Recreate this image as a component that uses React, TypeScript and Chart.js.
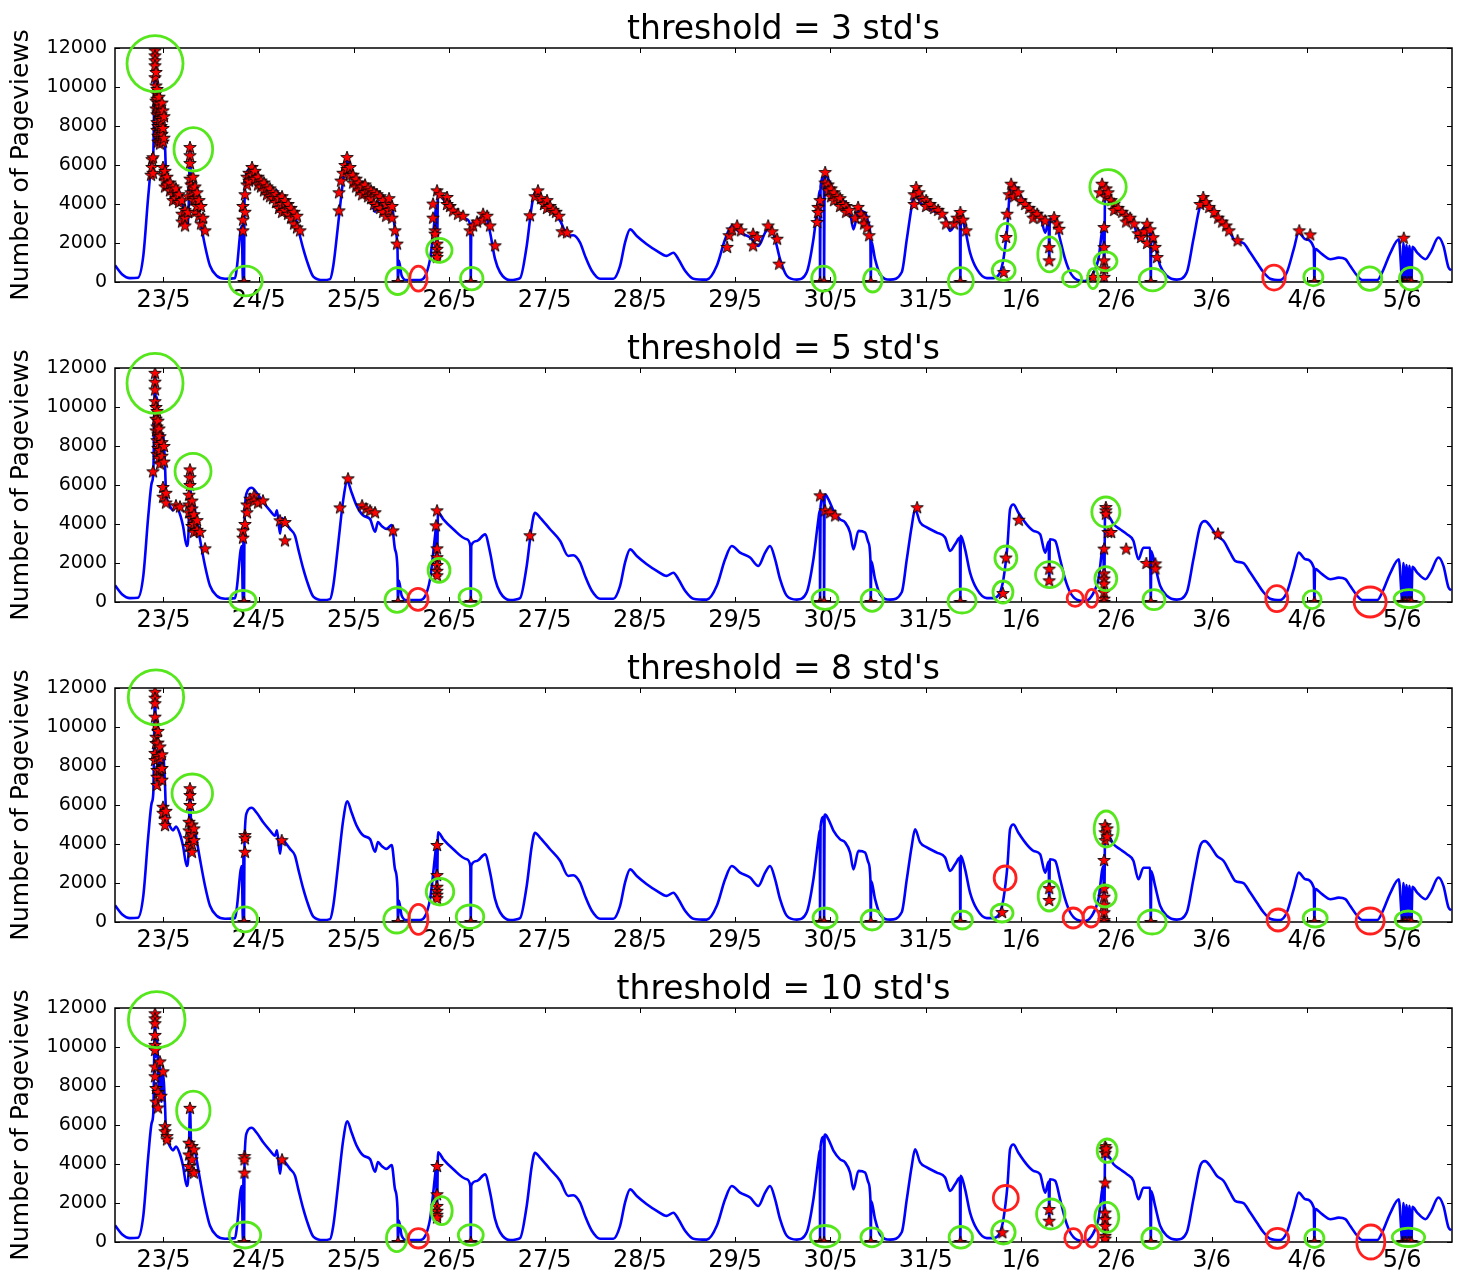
import React, { useEffect, useRef } from 'react';
import { Chart, registerables } from 'chart.js';

Chart.register(...registerables);

const FONT = "'DejaVu Sans', 'Bitstream Vera Sans', sans-serif";
const GREEN = '#55e61c';
const RED = '#ff1f1f';

// x axis: days since 23/5 00:00
const dayLabels = ['23/5', '24/5', '25/5', '26/5', '27/5', '28/5', '29/5', '30/5', '31/5', '1/6', '2/6', '3/6', '4/6', '5/6'];
const yTicks = [0, 2000, 4000, 6000, 8000, 10000, 12000];
const thresholds = [3, 5, 8, 10];
const xMin = -0.509;
const xMax = 13.523;

// blue line: [day, pageviews]
const pageviews: number[][] = [
  [-0.509, 850], [-0.436, 400], [-0.352, 200], [-0.268, 220], [-0.212, 1340], [-0.16, 4400], [-0.124, 6110], [-0.107, 6620],
  [-0.089, 11800], [-0.079, 9500], [-0.068, 10500], [-0.052, 8000], [-0.037, 9000], [-0.021, 7200], [-0.005, 8600], [0.016, 7000],
  [0.026, 5600], [0.042, 5200], [0.068, 4900], [0.1, 4700], [0.131, 4900], [0.173, 4500], [0.205, 3900], [0.244, 2870], [0.262, 3500],
  [0.278, 6880], [0.294, 4300], [0.315, 5000], [0.348, 4200], [0.383, 3220], [0.436, 1850], [0.488, 830], [0.558, 320], [0.646, 170],
  [0.751, 200], [0.768, 660], [0.821, 2870], [0.834, 0], [0.84, 3600], [0.845, 0], [0.85, 4000], [0.873, 5600], [0.926, 5860],
  [0.978, 5600], [1.048, 5100], [1.118, 4690], [1.17, 4430], [1.191, 4700], [1.223, 3500], [1.244, 4300], [1.275, 4100], [1.328, 3750],
  [1.38, 3400], [1.415, 2700], [1.467, 1700], [1.52, 870], [1.572, 280], [1.677, 100], [1.748, 150], [1.782, 830], [1.835, 3050],
  [1.887, 5260], [1.929, 6190], [1.975, 5600], [2.028, 4930], [2.097, 4430], [2.168, 4250], [2.22, 3600], [2.251, 4100], [2.29, 3900],
  [2.343, 3750], [2.395, 3950], [2.43, 2700], [2.456, 1700], [2.461, 0], [2.47, 1100], [2.5, 320], [2.553, 100], [2.692, 100],
  [2.797, 1160], [2.85, 3400], [2.862, 3900], [2.868, 1260], [2.874, 2450], [2.881, 4600], [2.937, 4240], [3.042, 3730], [3.183, 3220],
  [3.22, 2870], [3.225, 0], [3.23, 2900], [3.287, 3130], [3.375, 3470], [3.427, 2550], [3.48, 1170], [3.532, 500], [3.637, 100],
  [3.742, 200], [3.812, 1850], [3.865, 3900], [3.899, 4580], [3.952, 4330], [4.057, 3730], [4.162, 3140], [4.249, 2360], [4.301, 2400],
  [4.372, 2020], [4.424, 1340], [4.495, 580], [4.582, 170], [4.721, 170], [4.792, 830], [4.844, 2020], [4.897, 2700], [4.967, 2360],
  [5.072, 1940], [5.177, 1600], [5.282, 1340], [5.351, 1500], [5.404, 1170], [5.474, 580], [5.561, 170], [5.702, 120], [5.807, 830],
  [5.894, 2190], [5.964, 2870], [6.051, 2530], [6.156, 2280], [6.243, 1850], [6.314, 2530], [6.366, 2870], [6.419, 2190], [6.471, 1170],
  [6.541, 320], [6.646, 120], [6.751, 500], [6.821, 2190], [6.873, 4240], [6.888, 4700], [6.891, 0], [6.896, 4900], [6.93, 5400],
  [6.933, 0], [6.938, 5450], [6.944, 5510], [6.979, 5260], [7.031, 4690], [7.101, 4240], [7.154, 4080], [7.206, 3560], [7.241, 2700],
  [7.294, 3650], [7.363, 3560], [7.398, 3050], [7.419, 2190], [7.423, 0], [7.428, 2100], [7.468, 1170], [7.52, 400], [7.625, 120],
  [7.748, 500], [7.801, 2190], [7.853, 3900], [7.888, 4750], [7.941, 4080], [8.011, 3830], [8.116, 3560], [8.203, 3310], [8.255, 2620],
  [8.308, 2960], [8.358, 3300], [8.363, 0], [8.368, 3390], [8.413, 2700], [8.465, 1510], [8.536, 660], [8.641, 200], [8.71, 200],
  [8.78, 500], [8.815, 1170], [8.857, 2870], [8.885, 4750], [8.92, 5000], [8.972, 4580], [9.043, 4080], [9.13, 3650], [9.2, 3480],
  [9.253, 2530], [9.29, 3100], [9.296, 1090], [9.302, 3220], [9.358, 3140], [9.41, 2190], [9.463, 1170], [9.515, 500], [9.585, 120],
  [9.672, 50], [9.743, 320], [9.812, 1170], [9.864, 2870], [9.872, 0], [9.883, 4900], [9.893, 4400], [9.917, 4400], [9.969, 4000],
  [10.039, 3730], [10.11, 3480], [10.179, 3140], [10.232, 2190], [10.284, 2780], [10.354, 2780], [10.362, 0], [10.367, 2600],
  [10.407, 1850], [10.46, 830], [10.53, 320], [10.635, 120], [10.74, 500], [10.809, 2190], [10.88, 3900], [10.932, 4150], [10.985, 3900],
  [11.055, 3390], [11.124, 3140], [11.195, 2530], [11.247, 2110], [11.334, 1990], [11.405, 1510], [11.475, 1000], [11.545, 500],
  [11.615, 170], [11.72, 100], [11.79, 500], [11.862, 1680], [11.914, 2530], [11.985, 2190], [12.072, 1770], [12.079, 0], [12.085, 1700],
  [12.159, 1430], [12.247, 1170], [12.334, 1250], [12.404, 1170], [12.454, 830], [12.528, 320], [12.581, 100], [12.738, 100],
  [12.791, 500], [12.878, 1510], [12.965, 2190], [13.003, 0], [13.013, 2000], [13.034, 0], [13.045, 1900], [13.066, 0], [13.076, 1850],
  [13.097, 0], [13.108, 1800], [13.157, 1510], [13.244, 1170], [13.297, 1510], [13.381, 2280], [13.433, 1850], [13.486, 750], [13.514, 600],
];

// anomalies (red stars): [day, value, value, ...]
const anomalies3: number[][] = [
  [-0.131, 5500], [-0.121, 6300, 5900], [-0.11, 6400, 5600], [-0.089, 11880, 11620, 11370, 11110, 10500],
  [-0.079, 10770, 10080, 9700, 9300, 8900], [-0.068, 9900, 9400, 8600, 8200, 7800], [-0.058, 9200, 8700, 8000, 7500, 7200],
  [-0.047, 9500, 8800, 8100, 7400], [-0.037, 9000, 8400, 7700, 7100], [-0.026, 8600, 8000, 7300], [-0.016, 9200, 8300, 7600],
  [-0.005, 8800, 7900, 7200, 5900, 5500], [0.005, 8500, 7400], [0.016, 5700, 5200, 4900], [0.037, 5400, 5000], [0.068, 5100, 4700],
  [0.1, 4900, 4500, 4200], [0.131, 4800, 4300], [0.163, 4500, 4100], [0.194, 4200, 3500, 3100], [0.226, 3700, 3300, 2900],
  [0.257, 4400, 3600], [0.278, 6920, 6500, 6100, 5300], [0.289, 5000, 4600], [0.31, 5400, 4800, 4200], [0.331, 4900, 4300, 3600],
  [0.352, 4600, 3900], [0.373, 4200, 3400], [0.394, 3900, 3000], [0.415, 3300], [0.436, 2650],
  [0.834, 3900, 3200, 2650], [0.845, 0], [0.855, 4500, 3600], [0.876, 5000, 5400], [0.897, 5600, 5200], [0.929, 5900, 5500],
  [0.96, 5700, 5300], [0.992, 5400, 5000], [1.023, 5200, 4900], [1.055, 5100, 4700], [1.086, 4900, 4500], [1.118, 4800, 4400],
  [1.149, 4600, 4300], [1.181, 4500, 4100], [1.212, 4300, 3800], [1.244, 4400, 4000, 3600], [1.275, 4200, 3700], [1.307, 4000, 3500],
  [1.338, 3800, 3300], [1.37, 3600, 3000], [1.401, 3400, 2800], [1.433, 2650],
  [1.842, 3670, 4600], [1.863, 5200], [1.884, 5600], [1.905, 6000], [1.926, 6410, 5800], [1.958, 5900, 5500], [1.989, 5500, 5100],
  [2.021, 5300, 4900], [2.052, 5100, 4700], [2.084, 4900, 4500], [2.115, 5000, 4600], [2.147, 4800, 4400], [2.178, 4700, 4300],
  [2.21, 4600, 4000], [2.241, 4500, 3900], [2.273, 4400, 3800], [2.304, 4200, 3600], [2.336, 4000, 3400], [2.367, 4300, 3700],
  [2.399, 3900, 3300], [2.43, 2650], [2.451, 1970], [2.461, 0],
  [2.829, 4020, 3300], [2.85, 2650, 2480], [2.871, 4700, 1970, 1700, 1450, 1280], [2.903, 4500], [2.976, 4360, 4000], [3.007, 3900],
  [3.039, 3670], [3.091, 3500], [3.144, 3400], [3.217, 2650], [3.225, 0], [3.249, 2900], [3.291, 3100], [3.354, 3500, 3200],
  [3.396, 3400], [3.427, 2900], [3.48, 1880],
  [3.846, 3420], [3.899, 4400], [3.93, 4700], [3.962, 4300], [3.993, 4000], [4.025, 4200, 3800], [4.057, 3900], [4.088, 3700],
  [4.12, 3600], [4.151, 3400], [4.183, 2600], [4.235, 2550],
  [5.915, 1800], [5.936, 2400], [5.968, 2700], [6.02, 2900], [6.062, 2650], [6.188, 2480, 1880], [6.23, 2300], [6.346, 2900],
  [6.388, 2600], [6.44, 2220], [6.461, 940],
  [6.86, 3080], [6.87, 3850, 3590], [6.891, 4200, 0], [6.933, 0], [6.944, 5640, 5100], [6.975, 5000, 4700], [7.007, 4800, 4400],
  [7.038, 4600, 4200], [7.07, 4400], [7.101, 4300, 3900], [7.133, 4000], [7.164, 3900, 3600], [7.196, 3700], [7.259, 3300],
  [7.29, 3850], [7.322, 3500], [7.353, 3300, 3000], [7.385, 2800], [7.406, 2400], [7.423, 0],
  [7.878, 4500, 4000], [7.899, 4870], [7.93, 4600], [7.962, 4300], [8.004, 4200, 3900], [8.046, 4000], [8.088, 3800], [8.13, 3700],
  [8.172, 3500], [8.214, 3000], [8.298, 3000], [8.329, 3300], [8.363, 3590, 0], [8.392, 3200], [8.424, 2650],
  [8.818, 510], [8.843, 2310], [8.854, 3500], [8.875, 4500], [8.896, 5040], [8.927, 4800, 4400], [8.969, 4600], [9.001, 4190],
  [9.043, 4000], [9.085, 3800], [9.127, 3600, 3300], [9.169, 3500], [9.211, 3300], [9.253, 3160], [9.296, 1790, 1110], [9.347, 3330],
  [9.379, 3000], [9.4, 2730],
  [9.757, 260], [9.83, 4600], [9.851, 5040], [9.872, 2820, 1790, 1110, 700, 260], [9.893, 4800, 4400], [9.914, 4600], [9.946, 4200],
  [9.977, 4020, 3700], [10.019, 3800], [10.061, 3600], [10.103, 3400, 3100], [10.145, 3300], [10.187, 3000], [10.229, 2500],
  [10.26, 2310], [10.292, 2600], [10.323, 2990, 2000], [10.355, 2700], [10.362, 0], [10.386, 2300], [10.407, 1800], [10.428, 1280],
  [10.88, 4000], [10.912, 4360], [10.943, 4100], [10.975, 3850], [11.027, 3590], [11.069, 3300], [11.111, 3100], [11.153, 2900],
  [11.184, 2650], [11.273, 2140],
  [11.92, 2650], [12.035, 2440], [12.079, 0],
  [13.017, 2270], [13.003, 0], [13.034, 0], [13.066, 0], [13.097, 0],
];

const anomalies5: number[][] = [
  [-0.11, 6700], [-0.089, 11750, 11300, 10900, 10300], [-0.079, 10000, 9400, 8800], [-0.068, 9800, 9000, 8300, 7600],
  [-0.058, 9300, 8600, 7900], [-0.047, 8900, 8100, 7400], [-0.037, 8500, 7800, 7100], [-0.016, 8200, 7500], [-0.005, 5900, 5400],
  [0.005, 8000, 7200], [0.026, 5600, 5100], [0.131, 4960], [0.173, 4900], [0.268, 5500, 5000, 4600], [0.278, 6800, 6400, 6000],
  [0.299, 5200, 4800, 4300, 3900], [0.32, 4500, 4000, 3600], [0.352, 4200, 3700], [0.383, 3600], [0.436, 2750],
  [0.834, 3670, 3300], [0.845, 0], [0.855, 4000], [0.876, 4600, 5000], [0.908, 5300], [0.95, 5470, 5200], [0.992, 5100],
  [1.044, 5210], [1.223, 4190], [1.275, 4100, 3160],
  [1.853, 4850], [1.937, 6340], [2.084, 4960], [2.126, 4800], [2.168, 4700], [2.22, 4600], [2.409, 3670], [2.461, 0],
  [2.86, 3930], [2.871, 4700, 2750, 2300, 1900, 1600, 1370], [3.225, 0], [3.846, 3420],
  [6.891, 5470, 0], [6.933, 0], [6.944, 4700], [6.996, 4600], [7.049, 4440], [7.423, 0], [7.909, 4860], [8.363, 0],
  [8.81, 460], [8.841, 2280], [8.977, 4220], [9.296, 1710, 1110],
  [9.872, 2740, 1470, 1200, 950, 510, 170, 0], [9.89, 4870, 4700, 4530], [9.914, 3590], [9.946, 3590], [10.103, 2740],
  [10.316, 2000], [10.362, 0], [10.41, 1980, 1720], [11.067, 3510], [12.079, 0],
  [13.003, 0], [13.034, 0], [13.066, 0], [13.097, 0],
];

const anomalies8: number[][] = [
  [-0.089, 11810, 11500, 11220, 10530, 8670, 8310], [-0.079, 10100, 9500, 9180], [-0.068, 7800, 7450, 7030],
  [-0.058, 9800, 9200, 8500], [-0.037, 9000, 8400, 7800], [-0.016, 8600, 7900, 7300], [-0.005, 5910, 5600], [0.016, 5300, 4970],
  [0.026, 5700], [0.268, 5140, 4700, 4300, 3900], [0.278, 6860, 6510, 6000], [0.299, 5000, 4500, 4000, 3600], [0.32, 4800, 4200],
  [0.845, 0], [0.855, 4460, 4300, 3600], [1.241, 4200], [2.461, 0], [2.871, 3950, 2410, 1810, 1600, 1400, 1220], [3.225, 0],
  [6.891, 0], [6.933, 0], [7.423, 0], [8.363, 0], [8.801, 510], [9.296, 1740, 1130],
  [9.872, 3180, 1740, 1300, 900, 500, 100, 0], [9.883, 4970, 4600, 4200], [9.904, 4800, 4400], [10.362, 0], [12.079, 0],
  [13.003, 0], [13.034, 0], [13.066, 0], [13.097, 0],
];

const anomalies10: number[][] = [
  [-0.089, 11730, 11470, 11220, 10620, 10110, 9850, 9000, 8500], [-0.079, 7900, 7200], [-0.058, 7700, 6900], [-0.037, 9260],
  [-0.026, 7500], [-0.005, 8750], [0.016, 5940, 5680], [0.037, 5430, 5260], [0.268, 5090, 4490, 3900], [0.278, 6880],
  [0.299, 4920, 4240, 3640], [0.32, 4750, 3560], [0.845, 0], [0.85, 4410, 4240, 3560], [1.244, 4240], [2.461, 0],
  [2.871, 3900, 2450, 1850, 1600, 1400, 1260], [3.225, 0], [6.891, 0], [6.933, 0], [7.423, 0], [8.363, 0], [8.804, 500],
  [9.296, 1690, 1090], [9.883, 4920, 4750, 4580, 3050, 1510, 1170, 830, 320, 170], [9.893, 4800], [10.362, 0], [12.079, 0],
  [13.003, 0], [13.034, 0], [13.066, 0], [13.097, 0],
];

// annotation ellipses: [day, value, half-width (days), half-height (pageviews), colour]
type Ring = [number, number, number, number, string];
const rings3: Ring[] = [
  [-0.089, 11200, 0.294, 1436, 'g'], [0.313, 6805, 0.203, 1113, 'g'], [0.863, 51, 0.173, 759, 'g'], [2.458, 51, 0.124, 692, 'g'],
  [2.675, 174, 0.091, 641, 'r'], [2.895, 1626, 0.133, 615, 'g'], [3.235, 174, 0.118, 579, 'g'], [6.926, 174, 0.123, 641, 'g'],
  [7.444, 87, 0.097, 600, 'g'], [8.368, 51, 0.131, 682, 'g'], [8.843, 2308, 0.1, 703, 'g'], [8.818, 600, 0.12, 513, 'g'],
  [9.298, 1420, 0.122, 897, 'g'], [9.536, 174, 0.1, 426, 'g'], [9.755, 174, 0.057, 513, 'g'], [9.913, 4872, 0.191, 887, 'g'],
  [9.887, 1061, 0.12, 487, 'g'], [10.381, 123, 0.141, 574, 'g'], [11.655, 226, 0.118, 641, 'r'], [12.068, 256, 0.1, 451, 'g'],
  [12.66, 174, 0.126, 600, 'g'], [13.091, 174, 0.12, 579, 'g'],
];
const rings5: Ring[] = [
  [-0.089, 11215, 0.294, 1538, 'g'], [0.31, 6702, 0.189, 923, 'g'], [0.834, 87, 0.136, 513, 'g'], [2.451, 87, 0.126, 615, 'g'],
  [2.671, 138, 0.105, 564, 'r'], [2.892, 1626, 0.115, 615, 'g'], [3.217, 241, 0.115, 462, 'g'], [6.943, 138, 0.136, 513, 'g'],
  [7.437, 87, 0.115, 564, 'g'], [8.381, 51, 0.147, 615, 'g'], [8.841, 2256, 0.115, 615, 'g'], [8.81, 513, 0.105, 564, 'g'],
  [9.299, 1405, 0.147, 667, 'g'], [9.568, 190, 0.084, 410, 'r'], [9.742, 190, 0.063, 462, 'r'], [9.89, 4615, 0.147, 769, 'g'],
  [9.89, 1200, 0.115, 615, 'g'], [10.395, 123, 0.115, 513, 'g'], [11.684, 174, 0.115, 667, 'r'], [12.055, 123, 0.094, 462, 'g'],
  [12.664, 0, 0.168, 769, 'r'], [13.073, 174, 0.157, 462, 'g'],
];
const rings8: Ring[] = [
  [-0.079, 11523, 0.291, 1410, 'g'], [0.302, 6600, 0.213, 990, 'g'], [0.855, 138, 0.131, 641, 'g'], [2.448, 103, 0.136, 667, 'g'],
  [2.675, 138, 0.1, 769, 'r'], [2.902, 1554, 0.144, 682, 'g'], [3.217, 272, 0.144, 600, 'g'], [6.943, 205, 0.126, 513, 'g'],
  [7.437, 103, 0.115, 513, 'g'], [8.384, 103, 0.105, 462, 'g'], [8.801, 462, 0.115, 462, 'g'], [8.833, 2256, 0.115, 615, 'r'],
  [9.295, 1333, 0.115, 769, 'g'], [9.547, 205, 0.105, 513, 'r'], [9.736, 256, 0.084, 513, 'r'], [9.894, 4769, 0.126, 923, 'g'],
  [9.883, 1333, 0.115, 564, 'g'], [10.376, 0, 0.147, 615, 'g'], [11.698, 103, 0.115, 564, 'r'], [12.087, 205, 0.126, 462, 'g'],
  [12.664, 51, 0.147, 667, 'r'], [13.063, 103, 0.136, 462, 'g'],
];
const rings10: Ring[] = [
  [-0.071, 11400, 0.297, 1436, 'g'], [0.313, 6733, 0.175, 1000, 'g'], [0.855, 359, 0.165, 667, 'g'], [2.448, 190, 0.108, 682, 'g'],
  [2.675, 190, 0.105, 497, 'r'], [2.92, 1605, 0.11, 718, 'g'], [3.225, 359, 0.131, 528, 'g'], [6.943, 292, 0.154, 554, 'g'],
  [7.434, 241, 0.115, 487, 'g'], [8.368, 241, 0.123, 554, 'g'], [8.815, 497, 0.123, 600, 'g'], [8.84, 2256, 0.131, 641, 'r'],
  [9.312, 1436, 0.149, 769, 'g'], [9.55, 190, 0.091, 497, 'r'], [9.743, 292, 0.07, 554, 'r'], [9.904, 4682, 0.105, 600, 'g'],
  [9.9, 1267, 0.126, 769, 'g'], [10.373, 190, 0.105, 528, 'g'], [11.691, 190, 0.118, 513, 'r'], [12.079, 190, 0.1, 472, 'g'],
  [12.671, 0, 0.147, 872, 'r'], [13.066, 241, 0.17, 472, 'g'],
];

const anomalySets = [anomalies3, anomalies5, anomalies8, anomalies10];
const ringSets = [rings3, rings5, rings8, rings10];

function makeStar(): HTMLCanvasElement {
  const s = 16;
  const c = document.createElement('canvas');
  c.width = s;
  c.height = s;
  const g = c.getContext('2d')!;
  const R = 6.6;
  const r = 2.7;
  g.beginPath();
  for (let k = 0; k < 10; k++) {
    const rad = k % 2 === 0 ? R : r;
    const a = -Math.PI / 2 + (k * Math.PI) / 5;
    const x = s / 2 + rad * Math.cos(a);
    const y = s / 2 + 0.6 + rad * Math.sin(a);
    if (k === 0) g.moveTo(x, y);
    else g.lineTo(x, y);
  }
  g.closePath();
  g.fillStyle = '#ff0000';
  g.fill();
  g.lineWidth = 0.9;
  g.strokeStyle = '#000';
  g.stroke();
  return c;
}

function makeDecor(title: string, rings: Ring[]) {
  return {
    id: 'decor',
    afterDatasetsDraw(chart: any) {
      const { ctx, chartArea: a, scales } = chart;
      const xs = scales.x;
      const ys = scales.y;
      ctx.save();
      ctx.strokeStyle = '#000';
      ctx.lineWidth = 1;
      for (let d = 0; d < dayLabels.length; d++) {
        const px = Math.round(xs.getPixelForValue(d)) + 0.5;
        ctx.beginPath();
        ctx.moveTo(px, a.bottom);
        ctx.lineTo(px, a.bottom - 5);
        ctx.moveTo(px, a.top);
        ctx.lineTo(px, a.top + 5);
        ctx.stroke();
      }
      for (const v of yTicks) {
        const py = Math.round(ys.getPixelForValue(v)) + 0.5;
        ctx.beginPath();
        ctx.moveTo(a.left, py);
        ctx.lineTo(a.left + 5, py);
        ctx.moveTo(a.right, py);
        ctx.lineTo(a.right - 5, py);
        ctx.stroke();
      }
      ctx.lineWidth = 1.5;
      ctx.strokeRect(a.left, a.top, a.right - a.left, a.bottom - a.top);
      ctx.fillStyle = '#000';
      ctx.font = `33px ${FONT}`;
      ctx.textAlign = 'center';
      ctx.textBaseline = 'alphabetic';
      ctx.fillText(title, (a.left + a.right) / 2, a.top - 9);
      ctx.lineWidth = 2.8;
      for (const [d, v, hw, hh, c] of rings) {
        const cx = xs.getPixelForValue(d);
        const cy = ys.getPixelForValue(v);
        const rx = Math.abs(xs.getPixelForValue(d + hw) - cx);
        const ry = Math.abs(ys.getPixelForValue(v + hh) - cy);
        ctx.strokeStyle = c === 'g' ? GREEN : RED;
        ctx.beginPath();
        ctx.ellipse(cx, cy, rx, ry, 0, 0, Math.PI * 2);
        ctx.stroke();
      }
      ctx.restore();
    },
  };
}

function Panel({ index }: { index: number }) {
  const ref = useRef<HTMLCanvasElement>(null);
  useEffect(() => {
    const star = makeStar();
    const stars: { x: number; y: number }[] = [];
    for (const row of anomalySets[index]) {
      for (let k = 1; k < row.length; k++) stars.push({ x: row[0], y: row[k] });
    }
    const line = pageviews.map(([x, y]) => ({ x, y }));
    const chart = new Chart(ref.current!, {
      type: 'line',
      data: {
        datasets: [
          {
            data: stars,
            showLine: false,
            pointStyle: star as any,
            pointRadius: 7,
            order: 0,
            clip: 0,
          } as any,
          {
            data: line,
            borderColor: '#0000ff',
            borderWidth: 2.6,
            pointRadius: 0,
            cubicInterpolationMode: 'monotone',
            order: 1,
            clip: 0,
            borderJoinStyle: 'round',
          } as any,
        ],
      },
      options: {
        animation: false,
        responsive: false,
        devicePixelRatio: 1,
        events: [],
        layout: { padding: { left: 0, right: 17, top: 47, bottom: 0 } },
        plugins: { legend: { display: false }, tooltip: { enabled: false }, title: { display: false } },
        scales: {
          x: {
            type: 'linear',
            min: xMin,
            max: xMax,
            grid: { display: false, drawTicks: false },
            border: { display: false },
            afterBuildTicks: (ax: any) => {
              ax.ticks = dayLabels.map((_, i) => ({ value: i }));
            },
            afterFit: (ax: any) => {
              ax.height = 39;
            },
            ticks: {
              autoSkip: false,
              maxRotation: 0,
              padding: 4,
              color: '#000',
              font: { family: FONT, size: 24 },
              callback: (v: any) => dayLabels[Math.round(Number(v))],
            },
          },
          y: {
            type: 'linear',
            min: 0,
            max: 12000,
            grid: { display: false, drawTicks: false },
            border: { display: false },
            afterBuildTicks: (ax: any) => {
              ax.ticks = yTicks.map((v) => ({ value: v }));
            },
            afterFit: (ax: any) => {
              ax.width = 115;
            },
            ticks: {
              padding: 8,
              color: '#000',
              font: { family: FONT, size: 19 },
              callback: (v: any) => String(v),
            },
            title: {
              display: true,
              text: 'Number of Pageviews',
              color: '#000',
              font: { family: FONT, size: 25 },
              padding: { top: 6, bottom: 0 },
            },
          },
        },
      } as any,
      plugins: [makeDecor(`threshold = ${thresholds[index]} std's`, ringSets[index])],
    });
    return () => chart.destroy();
  }, [index]);
  return (
    <canvas
      ref={ref}
      width={1469}
      height={320}
      style={{ position: 'absolute', left: 0, top: 1 + 320 * index, width: 1469, height: 320 }}
    />
  );
}

export default function App() {
  return (
    <div style={{ position: 'absolute', left: 0, top: 0, width: 1469, height: 1273, background: '#fff', overflow: 'hidden' }}>
      {thresholds.map((_, i) => (
        <Panel key={i} index={i} />
      ))}
    </div>
  );
}
